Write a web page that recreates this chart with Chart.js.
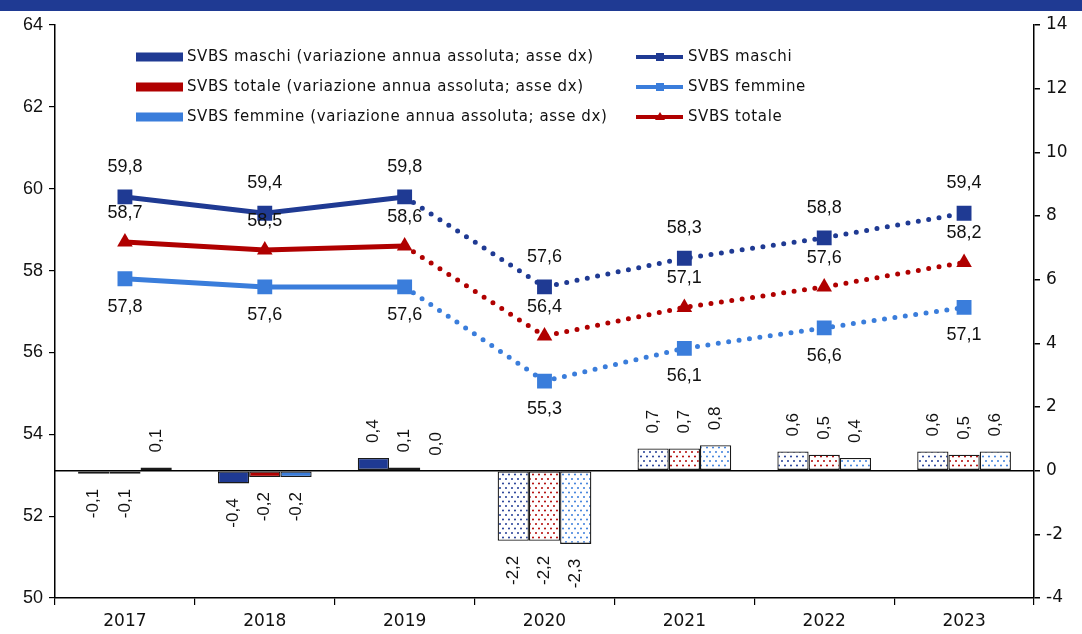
<!DOCTYPE html>
<html>
<head>
<meta charset="utf-8">
<script src="https://cdn.jsdelivr.net/npm/chart.js@4.4.1/dist/chart.umd.min.js"></script>
<style>
  html, body { margin: 0; padding: 0; background: #fff; }
</style>
</head>
<body>
<canvas id="chart" width="1082" height="634"></canvas>
<script>
  const years = ['2017', '2018', '2019', '2020', '2021', '2022', '2023'];

  // livelli (asse sx)
  const maschiLevel = [59.8, 59.4, 59.8, 57.6, 58.3, 58.8, 59.4];
  const femmineLevel = [57.8, 57.6, 57.6, 55.3, 56.1, 56.6, 57.1];
  const totaleLevel = [58.7, 58.5, 58.6, 56.4, 57.1, 57.6, 58.2];

  // variazioni annue assolute (asse dx)
  const maschiVar = [-0.1, -0.4, 0.4, -2.2, 0.7, 0.6, 0.6];
  const totaleVar = [-0.1, -0.2, 0.1, -2.2, 0.7, 0.5, 0.5];
  const femmineVar = [0.1, -0.2, 0.0, -2.3, 0.8, 0.4, 0.6];

  const BLUE = '#1f3a93';
  const RED = '#b00000';
  const LIGHT = '#3a7ddb';
  const BAND = '#1f3a93';

  function fmt(v) {
    return v.toFixed(1).replace('.', ',');
  }

  // white background with coloured dots, for the 2020-2023 bars
  function dotPattern(color) {
    const c = document.createElement('canvas');
    c.width = 6;
    c.height = 9;
    const g = c.getContext('2d');
    g.fillStyle = '#fff';
    g.fillRect(0, 0, 6, 9);
    g.fillStyle = color;
    g.beginPath();
    g.arc(2, 2, 1, 0, Math.PI * 2);
    g.arc(5, 6.5, 1, 0, Math.PI * 2);
    g.fill();
    return g.createPattern(c, 'repeat');
  }

  function barFill(color) {
    const p = dotPattern(color);
    return years.map((_, i) => i < 3 ? color : p);
  }

  const dottedAfter2019 = {
    borderDash: ctx => ctx.p0DataIndex >= 2 ? [0, 10.5] : undefined
  };

  const topBand = {
    id: 'topBand',
    beforeDraw(chart) {
      const ctx = chart.ctx;
      ctx.save();
      ctx.fillStyle = '#fff';
      ctx.fillRect(0, 0, chart.width, chart.height);
      ctx.fillStyle = BAND;
      ctx.fillRect(0, 0, chart.width, 11);
      ctx.restore();
    }
  };

  const customLegend = {
    id: 'customLegend',
    afterDraw(chart) {
      const ctx = chart.ctx;
      const sets = chart.data.datasets;
      const bars = sets.filter(d => d.type === 'bar');
      const lines = sets.filter(d => d.type === 'line');
      const rows = [57, 87, 117];
      ctx.save();
      ctx.font = '15px "DejaVu Sans"';
      if ('letterSpacing' in ctx) ctx.letterSpacing = '0.6px';
      ctx.textBaseline = 'middle';
      ctx.fillStyle = '#111';
      bars.forEach((d, i) => {
        ctx.fillStyle = d.legendColor;
        ctx.fillRect(136, rows[i] - 4.5, 47, 9);
        ctx.fillStyle = '#111';
        ctx.fillText(d.label, 187, rows[i]);
      });
      lines.forEach((d, i) => {
        const y = rows[i];
        ctx.strokeStyle = d.borderColor;
        ctx.lineWidth = 4;
        ctx.beginPath();
        ctx.moveTo(636, y);
        ctx.lineTo(683, y);
        ctx.stroke();
        ctx.fillStyle = d.borderColor;
        if (d.pointStyle === 'triangle') {
          ctx.beginPath();
          ctx.moveTo(660, y - 5);
          ctx.lineTo(665, y + 3);
          ctx.lineTo(655, y + 3);
          ctx.closePath();
          ctx.fill();
        } else {
          ctx.fillRect(656, y - 4, 8, 8);
        }
        ctx.fillStyle = '#111';
        ctx.fillText(d.label, 688, y);
      });
      ctx.restore();
    }
  };

  const valueLabels = {
    id: 'valueLabels',
    afterDatasetsDraw(chart) {
      const ctx = chart.ctx;
      ctx.save();
      ctx.fillStyle = '#111';
      chart.data.datasets.forEach((ds, di) => {
        const meta = chart.getDatasetMeta(di);
        meta.data.forEach((el, i) => {
          const v = ds.data[i];
          const txt = fmt(v);
          if (ds.type === 'bar') {
            const up = v >= 0;
            ctx.save();
            ctx.font = '17px "Liberation Sans"';
            ctx.translate(el.x, up ? Math.min(el.y, el.base) - 15 : Math.max(el.y, el.base) + 15);
            ctx.rotate(-Math.PI / 2);
            ctx.textAlign = up ? 'left' : 'right';
            ctx.textBaseline = 'middle';
            ctx.fillText(txt, 0, 0);
            ctx.restore();
          } else {
            ctx.font = '18px "Liberation Sans"';
            ctx.textAlign = 'center';
            ctx.textBaseline = 'middle';
            ctx.fillText(txt, el.x, el.y + ds.labelOffset);
          }
        });
      });
      ctx.restore();
    }
  };

  const barCommon = {
    type: 'bar',
    yAxisID: 'y2',
    order: 2,
    borderColor: '#1a1a1a',
    borderWidth: 1.3,
    borderSkipped: false,
    barPercentage: 1,
    categoryPercentage: 0.67
  };

  const lineCommon = {
    type: 'line',
    yAxisID: 'y',
    order: 1,
    borderWidth: 5,
    borderCapStyle: 'round',
    tension: 0,
    fill: false,
    segment: dottedAfter2019
  };

  new Chart(document.getElementById('chart'), {
    data: {
      labels: years,
      datasets: [
        {
          ...barCommon,
          label: 'SVBS maschi (variazione annua assoluta; asse dx)',
          data: maschiVar,
          backgroundColor: barFill(BLUE),
          legendColor: BLUE
        },
        {
          ...barCommon,
          label: 'SVBS totale (variazione annua assoluta; asse dx)',
          data: totaleVar,
          backgroundColor: barFill(RED),
          legendColor: RED
        },
        {
          ...barCommon,
          label: 'SVBS femmine (variazione annua assoluta; asse dx)',
          data: femmineVar,
          backgroundColor: barFill(LIGHT),
          legendColor: LIGHT
        },
        {
          ...lineCommon,
          label: 'SVBS maschi',
          data: maschiLevel,
          borderColor: BLUE,
          backgroundColor: BLUE,
          pointStyle: 'rect',
          pointRadius: 10.5,
          pointBorderWidth: 0,
          labelOffset: -30
        },
        {
          ...lineCommon,
          label: 'SVBS femmine',
          data: femmineLevel,
          borderColor: LIGHT,
          backgroundColor: LIGHT,
          pointStyle: 'rect',
          pointRadius: 10.5,
          pointBorderWidth: 0,
          labelOffset: 28
        },
        {
          ...lineCommon,
          label: 'SVBS totale',
          data: totaleLevel,
          borderColor: RED,
          backgroundColor: RED,
          pointStyle: 'triangle',
          pointRadius: 9,
          pointBorderWidth: 0,
          labelOffset: -29
        }
      ]
    },
    options: {
      responsive: false,
      animation: false,
      layout: { padding: { top: 25, left: 0, right: 0, bottom: 0 } },
      plugins: {
        legend: { display: false },
        tooltip: { enabled: false }
      },
      scales: {
        x: {
          offset: true,
          grid: {
            offset: true,
            drawOnChartArea: false,
            drawTicks: true,
            tickLength: 7,
            color: '#000',
            lineWidth: 1.2
          },
          border: { color: '#000', width: 1.5 },
          ticks: {
            color: '#111',
            font: { family: 'DejaVu Sans', size: 17 },
            padding: 6
          },
          afterFit: s => { s.height = 36; }
        },
        y: {
          position: 'left',
          min: 50,
          max: 64,
          ticks: {
            stepSize: 2,
            color: '#111',
            font: { family: 'Liberation Sans', size: 18 },
            padding: 6
          },
          grid: {
            drawOnChartArea: false,
            tickLength: 6,
            color: '#000',
            lineWidth: 1.2
          },
          border: { color: '#000', width: 1.5 },
          afterFit: s => { s.width = 55; }
        },
        y2: {
          position: 'right',
          min: -4,
          max: 14,
          ticks: {
            stepSize: 2,
            color: '#111',
            font: { family: 'DejaVu Sans', size: 17 },
            padding: 6
          },
          grid: {
            drawOnChartArea: true,
            tickLength: 6,
            color: ctx => ctx.tick && ctx.tick.value === 0 ? '#000' : 'rgba(0,0,0,0)',
            tickColor: '#000',
            lineWidth: 1.5
          },
          border: { color: '#000', width: 1.5 },
          afterFit: s => { s.width = 48; }
        }
      }
    },
    plugins: [topBand, valueLabels, customLegend]
  });
</script>
</body>
</html>
